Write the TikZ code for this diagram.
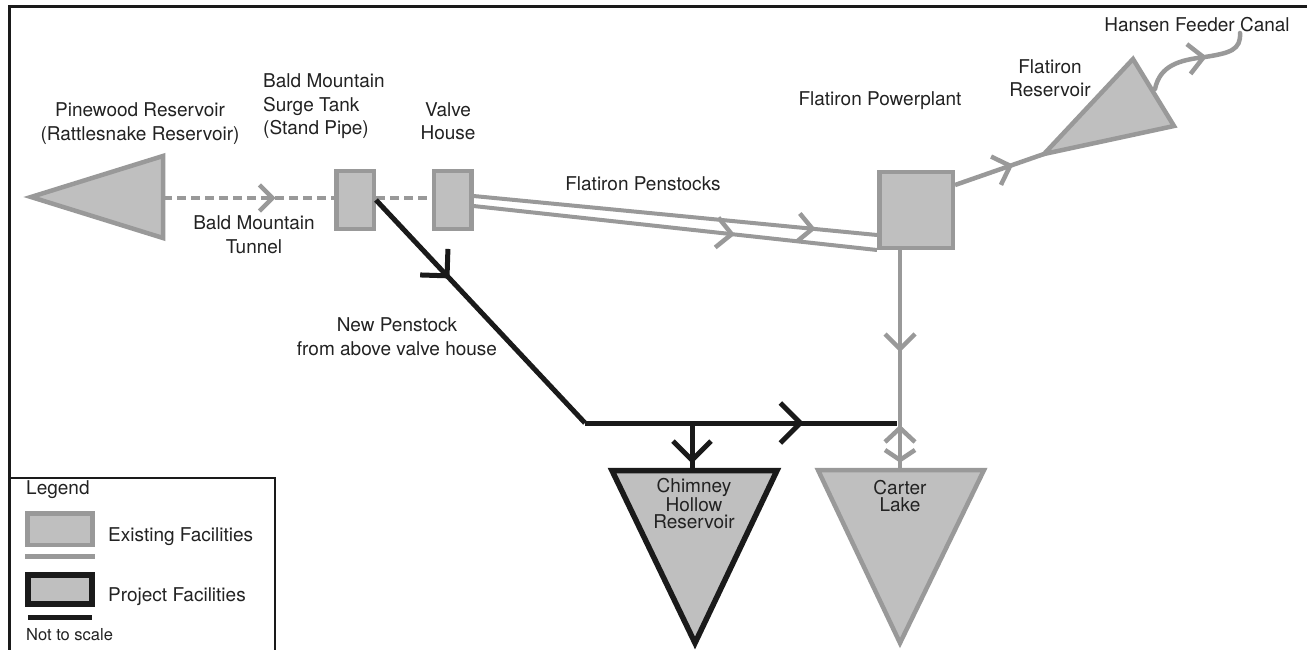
\documentclass[tikz,border=0pt]{standalone}
\usepackage{fontspec}
\setmainfont{TeX Gyre Heros}
\usetikzlibrary{decorations.markings}
\definecolor{gfill}{HTML}{BFBFBF}
\definecolor{gline}{HTML}{999999}
\definecolor{bline}{HTML}{1A1A1A}
\definecolor{txt}{HTML}{222222}
\begin{document}
\begin{tikzpicture}[x=1pt,y=-1pt,
  lbl/.style={text=txt, font=\fontsize{19}{23.5}\selectfont, inner sep=0pt, align=center},
  tight/.style={font=\fontsize{19}{17}\selectfont},
  gl/.style={draw=gline, line width=4.5pt},
  bl/.style={draw=bline, line width=5pt},
  gbox/.style={draw=gline, fill=gfill, line width=4.5pt, rectangle, inner sep=0pt},
  gtri/.style={draw=gline, fill=gfill, line width=4.5pt, line join=miter},
  btri/.style={draw=bline, fill=gfill, line width=5.5pt, line join=miter},
  chev/.style n args={4}{postaction={decorate}, decoration={markings, mark=at position #1 with {\draw[draw=#3, line width=#4, solid, line cap=butt, line join=miter] (-#2,#2) -- (0,0) -- (-#2,-#2);}}},
]
\clip (0,0) rectangle (1307,650);
\fill[white] (0,0) rectangle (1307,650);
% frame
\draw[draw=bline, line width=3pt] (9,7) rectangle (1340,690);

% Pinewood reservoir
\coordinate (pwT) at (31,197);
\coordinate (pwA) at (163,156);
\coordinate (pwB) at (163,238);
\coordinate (pwR) at (163,198);
\draw[gtri] (pwT) -- (pwA) -- (pwB) -- cycle;
\node[lbl] (pwlbl) at (140,123.5) {Pinewood Reservoir\\(Rattlesnake Reservoir)};

% surge tank and valve house
\node[gbox, minimum width=37.5pt, minimum height=57.5pt] (st) at (355,200) {};
\node[gbox, minimum width=37.5pt, minimum height=57.5pt] (vh) at (452.5,200) {};
\node[lbl, anchor=west, align=left] (stlbl) at (263,106.5) {Bald Mountain\\Surge Tank\\(Stand Pipe)};
\node[lbl] (vhlbl) at (448,121) {Valve\\House};

% tunnel
\draw[gl, dash pattern=on 9pt off 5pt, line cap=butt, chev={0.64}{13}{gline}{4.5pt}] (pwR) -- (st.west |- pwR);
\draw[gl, dash pattern=on 9pt off 5pt, line cap=butt] ([yshift=2pt]st.east) -- ([yshift=2pt]vh.west);
\node[lbl] (tunlbl) at (254,234.5) {Bald Mountain\\Tunnel};

% powerplant
\node[gbox, minimum width=73.5pt, minimum height=75.5pt] (pp) at (916,210) {};
\node[lbl] (pplbl) at (880,101) {Flatiron Powerplant};

% penstocks
\draw[gl, line width=4pt, chev={0.84}{14}{gline}{4.5pt}] ([yshift=4pt]vh.east) -- ([yshift=-25pt]pp.west);
\draw[gl, line width=4pt, chev={0.64}{15}{gline}{4.5pt}] ([yshift=-6pt]vh.east) -- (pp.south west);
\node[lbl] (pslbl) at (643,184) {Flatiron Penstocks};

% Flatiron reservoir
\coordinate (frT) at (1044,154);
\coordinate (frA) at (1133,59);
\coordinate (frB) at (1174,126);
\coordinate (frE) at (1155,89);
\coordinate (hfc) at (1240,33);
\draw[gl, chev={0.62}{15}{gline}{4.5pt}] ([yshift=25pt]pp.east) -- (frT);
\draw[gtri] (frT) -- (frA) -- (frB) -- cycle;
\node[lbl] (frlbl) at (1050,78) {Flatiron\\Reservoir};
\draw[gl, line cap=round, chev={0.56}{15}{gline}{4.5pt}] (frE) .. controls (1160,65) and (1180,60) .. (1205,57) .. controls (1230,53) and (1241,50) .. (hfc);
\node[lbl] (hfclbl) at (1197,25) {Hansen Feeder Canal};

% reservoirs at bottom
\coordinate (chA) at (612,470.5);
\coordinate (chB) at (777,470.5);
\coordinate (chC) at (695,643);
\coordinate (chTop) at (692,470.5);
\draw[btri] (chA) -- (chB) -- (chC) -- cycle;
\node[lbl, tight] (chlbl) at (694,504) {Chimney\\Hollow\\Reservoir};

\coordinate (caA) at (818,470);
\coordinate (caB) at (984,470);
\coordinate (caC) at (900,643);
\coordinate (caTop) at (900,470);
\draw[gtri] (caA) -- (caB) -- (caC) -- cycle;
\node[lbl, tight] (calbl) at (900,496) {Carter\\Lake};

% powerplant to Carter Lake
\draw[gl, chev={0.45}{15}{gline}{4.5pt}] (pp.south -| caTop) -- (caTop);
\coordinate (cu) at (900,428);
\coordinate (cd) at (900,460);
\draw[gl, line join=miter] ([shift={(-15,14)}]cu) -- (cu) -- ([shift={(15,14)}]cu);
\draw[gl, line join=miter] ([shift={(-15,-10)}]cd) -- (cd) -- ([shift={(15,-10)}]cd);

% new penstock
\coordinate (jn) at (585,423);
\coordinate (je) at (897,423);
\coordinate (jc) at (692,423);
\draw[bl, line join=miter, chev={0.34}{19}{bline}{5pt}] (st.east) -- (jn);
\draw[bl, chev={0.69}{20}{bline}{5pt}] (jn) -- (je);
\draw[bl, chev={0.78}{19}{bline}{5pt}] (jc) -- (chTop);
\node[lbl] (nplbl) at (397,336.5) {New Penstock\\from above valve house};

% legend
\draw[draw=bline, line width=2pt, fill=white] (10,478) rectangle (275,700);
\node[lbl, anchor=west] (leg) at (26,490) {Legend};
\node[gbox, minimum width=65pt, minimum height=31.5pt] (lgbox) at (60,529) {};
\draw[gl, line width=5pt] (25,556) -- (95,556);
\node[lbl, anchor=west] (lgtxt) at (108,537) {Existing Facilities};
\node[draw=bline, fill=gfill, line width=6pt, rectangle, inner sep=0pt, minimum width=64pt, minimum height=29pt] (lbbox) at (60,589.5) {};
\draw[bl, line width=5pt] (28,617) -- (92,617);
\node[lbl, anchor=west] (lbtxt) at (108,597) {Project Facilities};
\node[lbl, anchor=west, font=\fontsize{16.5}{20}\selectfont] (nts) at (26,635) {Not to scale};
\end{tikzpicture}
\end{document}
